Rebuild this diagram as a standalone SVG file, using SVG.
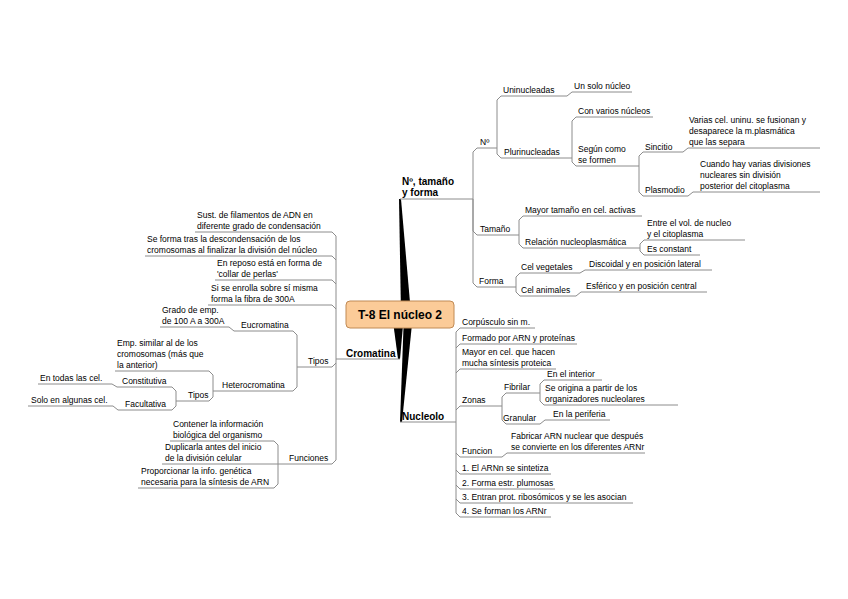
<svg xmlns="http://www.w3.org/2000/svg" width="848" height="599" viewBox="0 0 848 599">
<style>
.ln{fill:none;stroke:#8c8c8c;stroke-width:1}
.t{font-family:"Liberation Sans",Arial,sans-serif;font-size:8.5px;fill:#000}
.b{font-family:"Liberation Sans",Arial,sans-serif;font-size:10px;font-weight:bold;fill:#000}
.c{font-family:"Liberation Sans",Arial,sans-serif;font-size:12px;font-weight:bold;fill:#000}
.w{fill:#000}
</style>
<rect width="848" height="599" fill="#fff"/>
<g id="connectors">
<polygon class="w" points="399,199 401,199 411,314 401,314"/>
<polygon class="w" points="392,314 404,314 400,359 398,359"/>
<polygon class="w" points="404,314 413,314 402,422 400,422"/>
<path class="ln" d="M400,199 H473"/>
<path class="ln" d="M473,199 V152 L477,148 H496"/>
<path class="ln" d="M473,199 V231 L477,235 H516"/>
<path class="ln" d="M473,199 V283 L477,287 H513"/>
<path class="ln" d="M496,148 H497 V100 L501,96 H567"/>
<path class="ln" d="M497,148 V154 L501,158 H569"/>
<path class="ln" d="M567,96 L572,92 H632"/>
<path class="ln" d="M569,158 H572 V121 L576,117 H653"/>
<path class="ln" d="M572,158 V162 L576,166 H636"/>
<path class="ln" d="M636,166 H639 V156 L643,152 H683"/>
<path class="ln" d="M639,166 V192 L643,196 H688"/>
<path class="ln" d="M683,152 L688,148 H820"/>
<path class="ln" d="M688,196 L693,192 H820"/>
<path class="ln" d="M516,235 H519 V220 L523,216 H642"/>
<path class="ln" d="M519,235 V244 L523,248 H637"/>
<path class="ln" d="M637,248 H640 V244 L644,240 H745"/>
<path class="ln" d="M640,248 V251 L644,255 H700"/>
<path class="ln" d="M513,287 H516 V277 L520,273 H580"/>
<path class="ln" d="M516,287 V292 L520,296 H576"/>
<path class="ln" d="M580,273 L585,270 H712"/>
<path class="ln" d="M576,296 L581,292 H707"/>
<path class="ln" d="M400,422 H456"/>
<path class="ln" d="M456,422 V332 L460,328 H535"/>
<path class="ln" d="M456,348 L460,344 H577"/>
<path class="ln" d="M456,373 L460,369 H556"/>
<path class="ln" d="M456,410 L460,406 H499"/>
<path class="ln" d="M456,422 V513 L460,517 H551"/>
<path class="ln" d="M456,453 L460,457 H502"/>
<path class="ln" d="M456,470 L460,474 H551"/>
<path class="ln" d="M456,485 L460,489 H555"/>
<path class="ln" d="M456,499 L460,503 H633"/>
<path class="ln" d="M499,406 H502 V397 L506,393 H537"/>
<path class="ln" d="M502,406 V420 L506,424 H540"/>
<path class="ln" d="M537,393 H540 V384 L544,380 H602"/>
<path class="ln" d="M540,393 V401 L544,405 H678"/>
<path class="ln" d="M540,424 L545,420 H610"/>
<path class="ln" d="M502,457 L507,453 H645"/>
<path class="ln" d="M336,359 H400"/>
<path class="ln" d="M336,359 V236 L332,232 H195"/>
<path class="ln" d="M336,260 L332,256 H145"/>
<path class="ln" d="M336,284 L332,280 H215"/>
<path class="ln" d="M336,309 L332,305 H208"/>
<path class="ln" d="M336,359 V363 L332,367 H300"/>
<path class="ln" d="M336,363 V460 L332,464 H282"/>
<path class="ln" d="M300,367 H297 V335 L293,331 H234"/>
<path class="ln" d="M297,367 V387 L293,391 H217"/>
<path class="ln" d="M234,331 L229,327 H160"/>
<path class="ln" d="M217,391 H213 V375 L209,371 H115"/>
<path class="ln" d="M213,391 V397 L209,401 H180"/>
<path class="ln" d="M180,401 H176 V391 L172,387 H117"/>
<path class="ln" d="M176,401 V406 L172,410 H118"/>
<path class="ln" d="M117,387 L112,384 H38"/>
<path class="ln" d="M118,410 L113,406 H28"/>
<path class="ln" d="M282,464 H278 V445 L274,441 H170"/>
<path class="ln" d="M278,464 H162"/>
<path class="ln" d="M278,464 V484 L274,488 H138"/>
</g>
<g id="central">
<rect x="346" y="301" width="108" height="27" rx="4" fill="#fbcb98" stroke="#c08a55" stroke-width="1"/>
<text class="c" x="400" y="319" text-anchor="middle">T-8 El núcleo 2</text>
</g>
<g id="n-tamano"><text class="b" x="402" y="185">Nº, tamaño</text><text class="b" x="402" y="196">y forma</text></g>
<g id="n-num"><text class="t" x="480" y="145">Nº</text></g>
<g id="n-uni"><text class="t" x="503" y="93">Uninucleadas</text></g>
<g id="n-unsolo"><text class="t" x="574" y="89">Un solo núcleo</text></g>
<g id="n-pluri"><text class="t" x="504" y="155">Plurinucleadas</text></g>
<g id="n-convarios"><text class="t" x="578" y="114">Con varios núcleos</text></g>
<g id="n-segun"><text class="t" x="578" y="152">Según como</text><text class="t" x="578" y="163">se formen</text></g>
<g id="n-sincitio"><text class="t" x="645" y="150">Sincitio</text></g>
<g id="n-varias"><text class="t" x="689" y="123">Varias cel. uninu. se fusionan y</text><text class="t" x="689" y="134">desaparece la m.plasmática</text><text class="t" x="689" y="145">que las separa</text></g>
<g id="n-plasmodio"><text class="t" x="645" y="193">Plasmodio</text></g>
<g id="n-cuando"><text class="t" x="700" y="167">Cuando hay varias divisiones</text><text class="t" x="700" y="178">nucleares sin división</text><text class="t" x="700" y="189">posterior del citoplasma</text></g>
<g id="n-tam"><text class="t" x="480" y="232">Tamaño</text></g>
<g id="n-mayortam"><text class="t" x="525" y="213">Mayor tamaño en cel. activas</text></g>
<g id="n-relacion"><text class="t" x="525" y="245">Relación nucleoplasmática</text></g>
<g id="n-entre"><text class="t" x="647" y="226">Entre el vol. de nucleo</text><text class="t" x="647" y="237">y el citoplasma</text></g>
<g id="n-esconst"><text class="t" x="647" y="252">Es constant</text></g>
<g id="n-forma"><text class="t" x="479" y="284">Forma</text></g>
<g id="n-celveg"><text class="t" x="521" y="270">Cel vegetales</text></g>
<g id="n-discoidal"><text class="t" x="589" y="267">Discoidal y en posición lateral</text></g>
<g id="n-celani"><text class="t" x="521" y="293">Cel animales</text></g>
<g id="n-esferico"><text class="t" x="586" y="289">Esférico y en posición central</text></g>
<g id="n-nucleolo"><text class="b" x="402" y="420">Nucleolo</text></g>
<g id="n-corp"><text class="t" x="462" y="325">Corpúsculo sin m.</text></g>
<g id="n-formado"><text class="t" x="462" y="341">Formado por ARN y proteínas</text></g>
<g id="n-mayorcel"><text class="t" x="462" y="355">Mayor en cel. que hacen</text><text class="t" x="462" y="366">mucha síntesis proteica</text></g>
<g id="n-zonas"><text class="t" x="462" y="403">Zonas</text></g>
<g id="n-fibrilar"><text class="t" x="504" y="390">Fibrilar</text></g>
<g id="n-interior"><text class="t" x="547" y="377">En el interior</text></g>
<g id="n-origina"><text class="t" x="545" y="391">Se origina a partir de los</text><text class="t" x="545" y="402">organizadores nucleolares</text></g>
<g id="n-granular"><text class="t" x="503" y="421">Granular</text></g>
<g id="n-periferia"><text class="t" x="553" y="417">En la periferia</text></g>
<g id="n-funcion"><text class="t" x="462" y="454">Funcion</text></g>
<g id="n-fabricar"><text class="t" x="511" y="439">Fabricar ARN nuclear que después</text><text class="t" x="511" y="450">se convierte en los diferentes ARNr</text></g>
<g id="n-s1"><text class="t" x="462" y="471">1. El ARNn se sintetiza</text></g>
<g id="n-s2"><text class="t" x="462" y="486">2. Forma estr. plumosas</text></g>
<g id="n-s3"><text class="t" x="462" y="500">3. Entran prot. ribosómicos y se les asocian</text></g>
<g id="n-s4"><text class="t" x="462" y="514">4. Se forman los ARNr</text></g>
<g id="n-cromatina"><text class="b" x="346" y="357">Cromatina</text></g>
<g id="n-sust"><text class="t" x="197" y="218">Sust. de filamentos de ADN en</text><text class="t" x="197" y="229">diferente grado de condensación</text></g>
<g id="n-seforma"><text class="t" x="147" y="242">Se forma tras la descondensación de los</text><text class="t" x="147" y="253">cromosomas al finalizar la división del núcleo</text></g>
<g id="n-reposo"><text class="t" x="217" y="266">En reposo está en forma de</text><text class="t" x="217" y="277">'collar de perlas'</text></g>
<g id="n-enrolla"><text class="t" x="211" y="291">Si se enrolla sobre sí misma</text><text class="t" x="211" y="302">forma la fibra de 300A</text></g>
<g id="n-tipos"><text class="t" x="308" y="364">Tipos</text></g>
<g id="n-grado"><text class="t" x="162" y="313">Grado de emp.</text><text class="t" x="162" y="324">de 100 A a 300A</text></g>
<g id="n-eucro"><text class="t" x="241" y="328">Eucromatina</text></g>
<g id="n-hetero"><text class="t" x="222" y="388">Heterocromatina</text></g>
<g id="n-empsim"><text class="t" x="117" y="346">Emp. similar al de los</text><text class="t" x="117" y="357">cromosomas (más que</text><text class="t" x="117" y="368">la anterior)</text></g>
<g id="n-tipos2"><text class="t" x="188" y="398">Tipos</text></g>
<g id="n-todas"><text class="t" x="40" y="381">En todas las cel.</text></g>
<g id="n-constit"><text class="t" x="122" y="384">Constitutiva</text></g>
<g id="n-solo"><text class="t" x="31" y="403">Solo en algunas cel.</text></g>
<g id="n-facult"><text class="t" x="125" y="407">Facultativa</text></g>
<g id="n-contener"><text class="t" x="173" y="427">Contener la información</text><text class="t" x="173" y="438">biológica del organismo</text></g>
<g id="n-duplicar"><text class="t" x="165" y="450">Duplicarla antes del inicio</text><text class="t" x="165" y="461">de la división celular</text></g>
<g id="n-funciones"><text class="t" x="289" y="461">Funciones</text></g>
<g id="n-proporcionar"><text class="t" x="141" y="474">Proporcionar la info. genética</text><text class="t" x="141" y="485">necesaria para la síntesis de ARN</text></g>
</svg>
